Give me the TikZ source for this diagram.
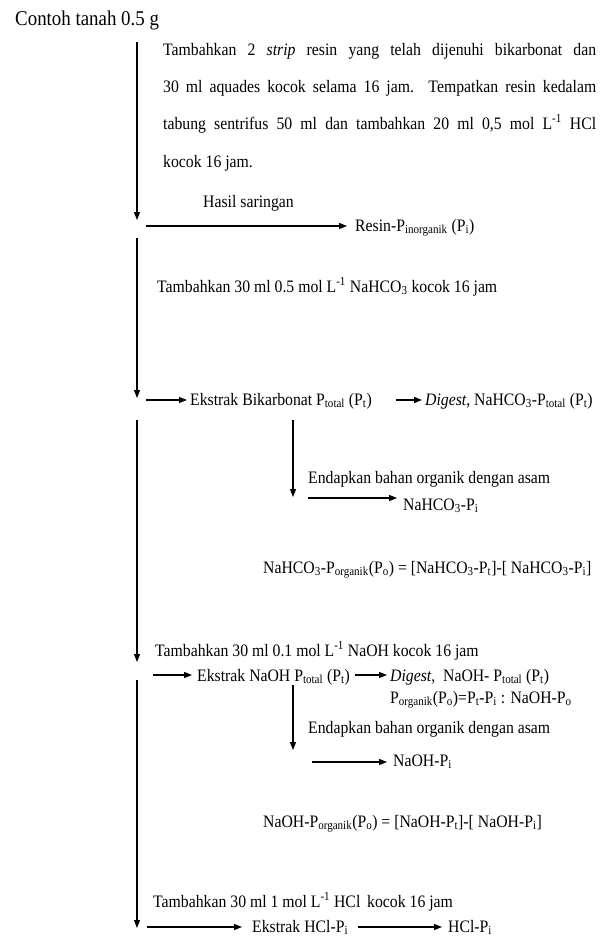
\documentclass[tikz,border=0pt]{standalone}
\usepackage{fontspec}
\setmainfont{Liberation Serif}[FakeStretch=0.9]
\usetikzlibrary{arrows.meta, positioning}
\newcommand{\Pidx}[1]{P\textsubscript{#1}}
\newcommand{\bicarbf}{NaHCO\textsubscript{3}}
\newcommand{\perL}{L\textsuperscript{-1}}

\begin{document}
\begin{tikzpicture}[
			x=1pt, y=-1pt,
			every node/.style={inner sep=0pt, anchor=base west, font=\fontsize{17.5}{21}\selectfont},
			title/.style={font=\fontsize{21}{25}\selectfont},
			arrow/.style={-{Triangle[length=8pt, width=6pt]}, line width=1.2pt}
			]
			\useasboundingbox (0,0) rectangle (608,937);
			
			% Nodes
			\node[title] (sample) at (15,25) {Contoh tanah 0.5 g};
			\node (resinA) at (163,55) {\makebox[433pt][s]{Tambahkan 2 \textit{strip} resin yang telah dijenuhi bikarbonat dan}};
			\node (resinB) at (163,92) {\makebox[433pt][s]{30 ml aquades kocok selama 16 jam. Tempatkan resin kedalam}};
			\node (resinC) at (163,129) {\makebox[433pt][s]{tabung sentrifus 50 ml dan tambahkan 20 ml 0,5 mol \perL{} HCl}};
			\node (resinD) at (163,167) {kocok 16 jam.};
			\node (filtrate) at (203,207) {Hasil saringan};
			\node (resin) at (355,231) {Resin-\Pidx{inorganik} (\Pidx{i})};
			\node (addbic) at (157,292) {Tambahkan 30 ml 0.5 mol \perL{} \bicarbf{} kocok 16 jam};
			\node (bicarb) at (190,405) {Ekstrak Bikarbonat \Pidx{total} (\Pidx{t})};
			\node (digest1) at (425,405) {\textit{Digest}, \bicarbf-\Pidx{total} (\Pidx{t})};
			\node (precip1) at (308,483) {Endapkan bahan organik dengan asam};
			\node (bicarbPi) at (403,510) {\bicarbf-\Pidx{i}};
			\node (bicarbPo) at (263,573) {\bicarbf-\Pidx{organik}(\Pidx{o}) = [\bicarbf-\Pidx{t}]-[ \bicarbf-\Pidx{i}]};
			\node (addnaoh) at (155,656) {Tambahkan 30 ml 0.1 mol \perL{} NaOH kocok 16 jam};
			\node (naoh) at (197,681) {Ekstrak NaOH \Pidx{total} (\Pidx{t})};
			\node (digest2) at (390,681) {\textit{Digest}, \ NaOH- \Pidx{total} (\Pidx{t})};
			\node (naohPoA) at (390,703) {\Pidx{organik}(\Pidx{o})=\Pidx{t}-\Pidx{i} : NaOH-\Pidx{o}};
			\node (precip2) at (308,733) {Endapkan bahan organik dengan asam};
			\node (naohPi) at (393,766) {NaOH-\Pidx{i}};
			\node (naohPo) at (263,827) {NaOH-\Pidx{organik}(\Pidx{o}) = [NaOH-\Pidx{t}]-[ NaOH-\Pidx{i}]};
			\node (addhcl) at (153,907) {Tambahkan 30 ml 1 mol \perL{} HCl \,kocok 16 jam};
			\node (hcl) at (252,932) {Ekstrak HCl-\Pidx{i}};
			\node (hclPi) at (448,932) {HCl-\Pidx{i}};
			
			% Main line
			\coordinate (m0) at (137,42);
			\coordinate (m1) at (137,220);
			\coordinate (m2) at (137,238);
			\coordinate (m3) at (137,398);
			\coordinate (m4) at (137,420);
			\coordinate (m5) at (137,662);
			\coordinate (m6) at (137,680);
			\coordinate (m7) at (137,928);
			
			% Branches
			\coordinate (h1) at (146,226);
			\coordinate (h2) at (146,400);
			\coordinate (h3) at (153,675);
			\coordinate (h4) at (147,927);
			\coordinate (h5) at (308,498);
			\coordinate (h6) at (312,762);
			\coordinate (v1) at (293,420);
			\coordinate (v2) at (293,497);
			\coordinate (v3) at (293,685);
			\coordinate (v4) at (293,750);
			
			% Connections
			\draw [arrow] (m0) -- (m1);
			\draw [arrow] (m2) -- (m3);
			\draw [arrow] (m4) -- (m5);
			\draw [arrow] (m6) -- (m7);
			\draw [arrow] (v1) -- (v2);
			\draw [arrow] (v3) -- (v4);
			\draw [arrow, shorten >=8pt] (h1) -- (h1 -| resin.west);
			\draw [arrow, shorten >=3pt] (h2) -- (h2 -| bicarb.west);
			\draw [arrow, shorten <=24pt, shorten >=3pt] (h2 -| bicarb.east) -- (h2 -| digest1.west);
			\draw [arrow, shorten >=6pt] (h5) -- (h5 -| bicarbPi.west);
			\draw [arrow, shorten >=5pt] (h3) -- (h3 -| naoh.west);
			\draw [arrow, shorten <=5pt, shorten >=3pt] (h3 -| naoh.east) -- (h3 -| digest2.west);
			\draw [arrow, shorten >=6pt] (h6) -- (h6 -| naohPi.west);
			\draw [arrow, shorten >=10pt] (h4) -- (h4 -| hcl.west);
			\draw [arrow, shorten <=10pt, shorten >=6pt] (h4 -| hcl.east) -- (h4 -| hclPi.west);
			
		\end{tikzpicture}
\end{document}
